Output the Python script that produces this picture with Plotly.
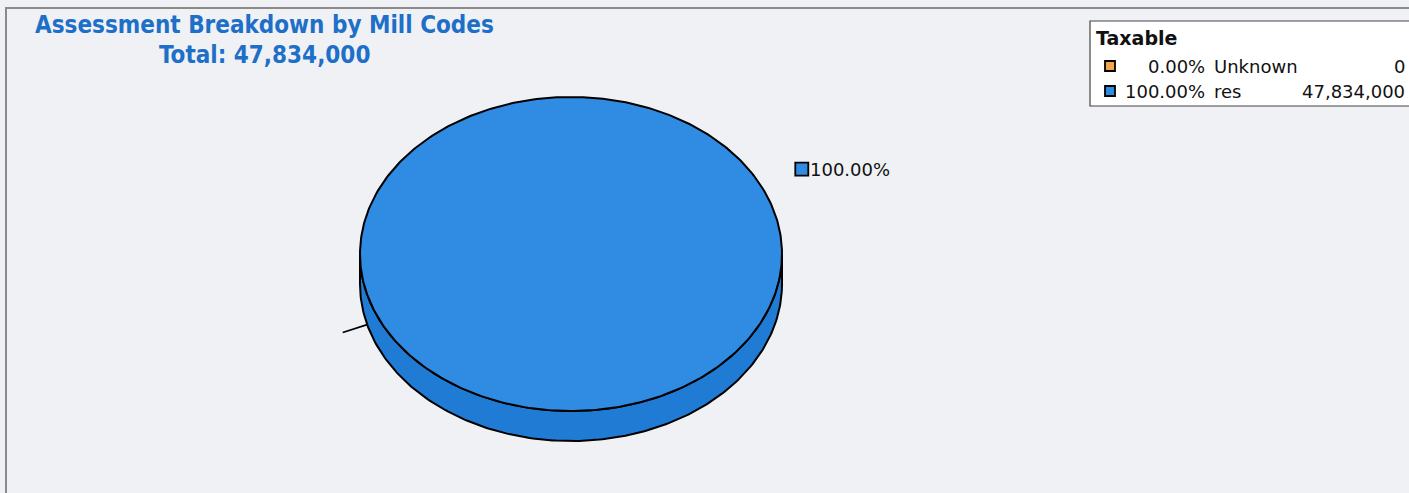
import numpy as np
import plotly.graph_objects as go

# ---------------- data ----------------
categories = ["Unknown", "res"]
values = [0, 47834000]
colors_top = ["#f2a54a", "#2f8ce2"]
colors_side = ["#d98a30", "#1f7bd3"]
legend_title = "Taxable"
chart_title = "Assessment Breakdown by Mill Codes"

total = sum(values)
fracs = [v / total for v in values]
pct_labels = [f"{f*100:.2f}%" for f in fracs]
val_labels = [f"{v:,}" for v in values]

# ---------------- geometry (pixel space) ----------------
W, H = 1409, 493
cx, cy, rx, ry, depth = 571, 254, 211, 157, 30
start_deg = 165.0  # first slice begins here (screen angle, clockwise)

fig = go.Figure()

def ell(theta, dy=0.0, k=1.0):
    return cx + k * rx * np.cos(theta), cy + k * ry * np.sin(theta) + dy

# slice angle ranges
angles = []
a = np.deg2rad(start_deg)
for f in fracs:
    b = a + 2 * np.pi * f
    angles.append((a, b))
    a = b

line_style = dict(color="black", width=2)

# side walls (front half, theta in [0, pi] mod 2pi)
for (a0, a1), f, col in zip(angles, fracs, colors_side):
    if f <= 0:
        continue
    if f >= 0.9999:
        segs = [(0.0, np.pi)]
    else:
        segs = []
        for k in range(-1, 3):
            lo, hi = 2 * np.pi * k, 2 * np.pi * k + np.pi
            s0, s1 = max(a0, lo), min(a1, hi)
            if s1 > s0:
                segs.append((s0, s1))
    for s0, s1 in segs:
        t = np.linspace(s0, s1, 200)
        x1, y1 = ell(t)
        x2, y2 = ell(t[::-1], dy=depth)
        xs = np.concatenate([x1, x2, x1[:1]])
        ys = np.concatenate([y1, y2, y1[:1]])
        fig.add_trace(go.Scatter(x=xs, y=ys, mode="lines", fill="toself",
                                 fillcolor=col, line=line_style,
                                 hoverinfo="skip", showlegend=False))

# top faces
for (a0, a1), f, col, name in zip(angles, fracs, colors_top, categories):
    if f <= 0:
        continue
    t = np.linspace(a0, a1, 400)
    x1, y1 = ell(t)
    if f >= 0.9999:
        xs, ys = np.append(x1, x1[0]), np.append(y1, y1[0])
    else:
        xs = np.concatenate([[cx], x1, [cx]])
        ys = np.concatenate([[cy], y1, [cy]])
    fig.add_trace(go.Scatter(x=xs, y=ys, mode="lines", fill="toself",
                             fillcolor=col, line=line_style, name=name,
                             hoverinfo="skip", showlegend=False))

# data labels / leader lines
annotations = []
for (a0, a1), f, col, pl in zip(angles, fracs, colors_top, pct_labels):
    mid = (a0 + a1) / 2
    if f <= 0:
        px, py = ell(mid, dy=depth)
        qx, qy = ell(mid, dy=depth, k=1.12)
        fig.add_trace(go.Scatter(x=[px, qx], y=[py, qy + 3], mode="lines",
                                 line=dict(color="black", width=1.8),
                                 hoverinfo="skip", showlegend=False))
    else:
        lx, ly = ell(mid - 0.2, k=1.1)
        fig.add_trace(go.Scatter(x=[lx + 23], y=[ly - 8], mode="markers",
                                 marker=dict(symbol="square", size=13, color=col,
                                             line=dict(color="black", width=1.8)),
                                 hoverinfo="skip", showlegend=False))
        annotations.append(dict(x=lx + 29, y=ly - 8, text=pl, showarrow=False,
                                xanchor="left", yanchor="middle",
                                font=dict(family="DejaVu Sans", size=18, color="#111")))

# legend (drawn)
leg_x0, leg_y0, leg_y1 = 1090, 21, 106
row_y = [66, 91]
lfont = dict(family="DejaVu Sans", size=18, color="#111")
annotations.append(dict(x=1094, y=38, text=f"<b>{legend_title}</b>", showarrow=False,
                        xanchor="left", yanchor="middle",
                        font=dict(family="DejaVu Sans", size=19, color="#111")))
fig.add_trace(go.Scatter(x=[1110] * len(categories), y=row_y, mode="markers",
                         marker=dict(symbol="square", size=10, color=colors_top,
                                     line=dict(color="black", width=1.8)),
                         hoverinfo="skip", showlegend=False))
for yy, cat, pl, vl in zip(row_y, categories, pct_labels, val_labels):
    annotations.append(dict(x=1207, y=yy, text=pl, showarrow=False, xanchor="right",
                            yanchor="middle", font=lfont))
    annotations.append(dict(x=1212, y=yy, text=cat, showarrow=False, xanchor="left",
                            yanchor="middle", font=lfont))
    annotations.append(dict(x=1407, y=yy, text=vl, showarrow=False, xanchor="right",
                            yanchor="middle", font=lfont))

# title
tfont = dict(family="DejaVu Sans Condensed, Liberation Sans Narrow, DejaVu Sans",
             size=24, color="#1d6fc7")
annotations.append(dict(x=264, y=25, text=f"<b>{chart_title}</b>", showarrow=False,
                        xanchor="center", yanchor="middle", font=tfont))
annotations.append(dict(x=264, y=55, text=f"<b>Total: {total:,}</b>", showarrow=False,
                        xanchor="center", yanchor="middle", font=tfont))

shapes = [
    dict(type="rect", x0=6, y0=8, x1=1420, y1=520, line=dict(color="#8a8a8a", width=2),
         layer="below"),
    dict(type="rect", x0=leg_x0, y0=leg_y0, x1=1420, y1=leg_y1,
         line=dict(color="#444", width=1.2), fillcolor="#ffffff", layer="below"),
]

fig.update_layout(
    width=W, height=H, margin=dict(l=0, r=0, t=0, b=0),
    paper_bgcolor="#eff1f5", plot_bgcolor="#eff1f5",
    xaxis=dict(range=[0, W], visible=False, fixedrange=True),
    yaxis=dict(range=[H, 0], visible=False, fixedrange=True),
    annotations=annotations, shapes=shapes, showlegend=False,
)

fig.write_html("out.html")
